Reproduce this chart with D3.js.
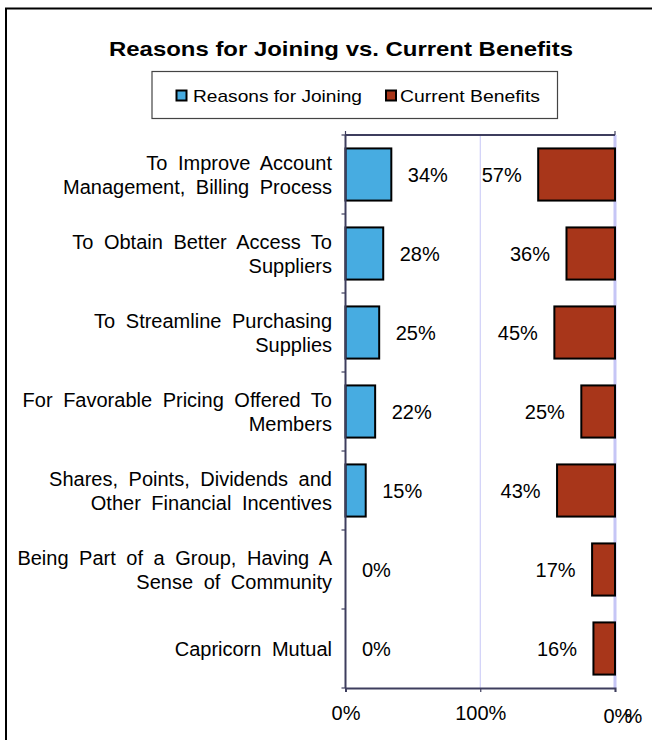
<!DOCTYPE html>
<html>
<head>
<meta charset="utf-8">
<script src="https://cdn.jsdelivr.net/npm/d3@7"></script>
<style>
  html, body { margin: 0; padding: 0; background: #fff; }
  svg { display: block; font-family: "Liberation Sans", Arial, sans-serif; }
</style>
</head>
<body>
<svg id="chart" width="652" height="740"></svg>
<script>
// Category labels, one array of lines per row
const categories = [
  ["To Improve Account", "Management, Billing Process"],
  ["To Obtain Better Access To", "Suppliers"],
  ["To Streamline Purchasing", "Supplies"],
  ["For Favorable Pricing Offered To", "Members"],
  ["Shares, Points, Dividends and", "Other Financial Incentives"],
  ["Being Part of a Group, Having A", "Sense of Community"],
  ["Capricorn Mutual"]
];
const reasonsForJoining = [34, 28, 25, 22, 15, 0, 0];
const currentBenefits   = [57, 36, 45, 25, 43, 17, 16];
const seriesNames = ["Reasons for Joining", "Current Benefits"];
const tickValues = [0, 100, 200];
const tickLabels = ["0%", "100%", "0%"];

const colors = { joining: "#47ACE1", benefits: "#A8361A", axis: "#3E3E5E", grid: "#C6C6F6" };

const svg = d3.select("#chart");
const plot = { left: 345.5, right: 615, top: 135, bottom: 688 };

// Outer chart frame
svg.append("rect")
  .attr("x", 6).attr("y", 8.5).attr("width", 700).attr("height", 760)
  .attr("fill", "none").attr("stroke", "#000").attr("stroke-width", 2);

// Title
svg.append("text")
  .attr("x", 109).attr("y", 56)
  .attr("font-size", 21).attr("font-weight", "bold")
  .attr("textLength", 464).attr("lengthAdjust", "spacingAndGlyphs")
  .text("Reasons for Joining vs. Current Benefits");

// Legend
const legend = svg.append("g");
legend.append("rect")
  .attr("x", 152).attr("y", 71.5).attr("width", 405.5).attr("height", 47)
  .attr("fill", "#fff").attr("stroke", "#444").attr("stroke-width", 1.2);
const legendItems = [
  { name: seriesNames[0], color: colors.joining, sx: 176.5, tx: 193, w: 169 },
  { name: seriesNames[1], color: colors.benefits, sx: 386, tx: 400, w: 140 }
];
legendItems.forEach(it => {
  legend.append("rect")
    .attr("x", it.sx).attr("y", 90.5).attr("width", 10).attr("height", 10)
    .attr("fill", it.color).attr("stroke", "#000").attr("stroke-width", 2);
  legend.append("text")
    .attr("x", it.tx).attr("y", 101.7)
    .attr("font-size", 17)
    .attr("textLength", it.w).attr("lengthAdjust", "spacingAndGlyphs")
    .text(it.name);
});

// Scales
const x = d3.scaleLinear().domain([0, 200]).range([plot.left, plot.right]);
const y = d3.scaleBand()
  .domain(d3.range(categories.length))
  .range([plot.top, plot.bottom])
  .paddingInner(0.34).paddingOuter(0.17);
const step = y.step();

// Gridlines
svg.append("line")
  .attr("x1", x(100)).attr("x2", x(100)).attr("y1", plot.top).attr("y2", plot.bottom)
  .attr("stroke", colors.grid).attr("stroke-width", 1);
svg.append("line")
  .attr("x1", x(200)).attr("x2", x(200)).attr("y1", plot.top).attr("y2", plot.bottom)
  .attr("stroke", colors.grid).attr("stroke-width", 3);

// Bars: joining grows rightwards from the left edge, benefits leftwards from the right edge
svg.append("g").selectAll("rect")
  .data(reasonsForJoining.map((v, i) => ({ v, i })).filter(d => d.v > 0))
  .join("rect")
  .attr("x", x(0))
  .attr("y", d => y(d.i))
  .attr("width", d => x(d.v) - x(0))
  .attr("height", y.bandwidth())
  .attr("fill", colors.joining).attr("stroke", "#000").attr("stroke-width", 2);

svg.append("g").selectAll("rect")
  .data(currentBenefits)
  .join("rect")
  .attr("x", d => x(200 - d))
  .attr("y", (d, i) => y(i))
  .attr("width", d => x(200) - x(200 - d))
  .attr("height", y.bandwidth())
  .attr("fill", colors.benefits).attr("stroke", "#000").attr("stroke-width", 2);

// Value labels
svg.append("g").selectAll("text")
  .data(reasonsForJoining)
  .join("text")
  .attr("x", d => x(d) + 16.5)
  .attr("y", (d, i) => y(i) + y.bandwidth() / 2 + 7)
  .attr("font-size", 20)
  .text(d => d + "%");

svg.append("g").selectAll("text")
  .data(currentBenefits)
  .join("text")
  .attr("x", d => x(200 - d) - 16.5)
  .attr("y", (d, i) => y(i) + y.bandwidth() / 2 + 7)
  .attr("text-anchor", "end")
  .attr("font-size", 20)
  .text(d => d + "%");

// Category labels
const catG = svg.append("g");
categories.forEach((lines, i) => {
  const cy = y(i) + y.bandwidth() / 2;
  const t = catG.append("text")
    .attr("text-anchor", "end")
    .attr("font-size", 20)
    .attr("word-spacing", 5);
  if (lines.length === 1) {
    t.append("tspan").attr("x", 332).attr("y", cy + 7.5).text(lines[0]);
  } else {
    lines.forEach((ln, j) => {
      t.append("tspan").attr("x", 332).attr("y", cy - 5 + j * 24).text(ln);
    });
  }
});

// Axes
const axisG = svg.append("g").attr("stroke", colors.axis).attr("stroke-width", 2);
// left axis with band boundary ticks
axisG.append("line").attr("x1", plot.left).attr("x2", plot.left).attr("y1", plot.top).attr("y2", plot.bottom);
d3.range(categories.length + 1).forEach(k => {
  const yy = plot.top + k * step;
  axisG.append("line").attr("x1", plot.left - 4).attr("x2", plot.left).attr("y1", yy).attr("y2", yy).attr("stroke-width", 1.2);
});
// top axis
axisG.append("line").attr("x1", plot.left).attr("x2", plot.right).attr("y1", plot.top).attr("y2", plot.top);
[0, 200].forEach(v => {
  axisG.append("line").attr("x1", x(v)).attr("x2", x(v)).attr("y1", plot.top - 4).attr("y2", plot.top).attr("stroke-width", 1.2);
});

// bottom axis
const xAxis = d3.axisBottom(x)
  .tickValues(tickValues)
  .tickSize(4)
  .tickFormat((d, i) => tickLabels[i]);
const bx = svg.append("g")
  .attr("transform", `translate(0,${plot.bottom})`)
  .call(xAxis);
bx.select(".domain").attr("stroke", colors.axis).attr("stroke-width", 2);
bx.selectAll(".tick line").attr("stroke", colors.axis).attr("stroke-width", 1.2);
bx.selectAll(".tick text")
  .attr("font-family", "Liberation Sans, Arial, sans-serif")
  .attr("font-size", 20)
  .attr("fill", "#000")
  .attr("dy", null)
  .attr("y", 32);
// the far-right label sits slightly lower and carries an overlapping percent sign
bx.selectAll(".tick text").filter((d, i) => i === tickValues.length - 1)
  .attr("text-anchor", "start")
  .attr("x", -12)
  .attr("y", 35)
  .append("tspan").attr("dx", -8).text("%");
</script>
</body>
</html>
